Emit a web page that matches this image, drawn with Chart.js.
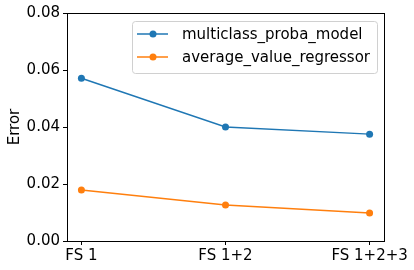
<!DOCTYPE html>
<html>
<head>
<meta charset="utf-8">
<script src="https://cdn.jsdelivr.net/npm/chart.js@4/dist/chart.umd.min.js"></script>
<style>
  html, body { margin: 0; padding: 0; background: #fff; }
  #wrap { width: 414px; height: 270px; }
</style>
</head>
<body>
<div id="wrap"><canvas id="errChart" width="414" height="270"></canvas></div>
<script>
const categories = ['FS 1', 'FS 1+2', 'FS 1+2+3']
const multiclassProba = [0.0571, 0.0400, 0.0375]
const averageValue = [0.0179, 0.0126, 0.0098]
const yTicks = [0, 0.02, 0.04, 0.06, 0.08]

const FONT = 'DejaVu Sans'

// frame round the plot area, like matplotlib's spines
const framePlugin = {
  id: 'frame',
  afterDraw(chart) {
    const { ctx, chartArea: a } = chart
    ctx.save()
    ctx.strokeStyle = '#000'
    ctx.lineWidth = 1
    ctx.strokeRect(Math.round(a.left) + 0.5, Math.round(a.top) + 0.5,
      Math.round(a.right - a.left), Math.round(a.bottom - a.top))
    ctx.restore()
  }
}

// legend box with line + marker swatches
const legendPlugin = {
  id: 'mplLegend',
  afterDraw(chart) {
    const { ctx } = chart
    const x0 = 132, y0 = 21, w = 245, h = 52
    ctx.save()
    ctx.fillStyle = 'rgba(255,255,255,0.8)'
    ctx.strokeStyle = '#d0d0d0'
    ctx.lineWidth = 1
    ctx.beginPath()
    ctx.roundRect(x0 + 0.5, y0 + 0.5, w, h, 3)
    ctx.fill()
    ctx.stroke()
    ctx.font = '15px "' + FONT + '"'
    ctx.textBaseline = 'middle'
    chart.data.datasets.forEach((ds, i) => {
      const y = y0 + 13 + i * 23
      ctx.strokeStyle = ds.borderColor
      ctx.lineWidth = 1.5
      ctx.beginPath()
      ctx.moveTo(x0 + 5, y)
      ctx.lineTo(x0 + 36, y)
      ctx.stroke()
      ctx.fillStyle = ds.borderColor
      ctx.beginPath()
      ctx.arc(x0 + 21, y, 3.5, 0, Math.PI * 2)
      ctx.fill()
      ctx.fillStyle = '#000'
      ctx.fillText(ds.label, x0 + 50, y + 1)
    })
    ctx.restore()
  }
}

const toPoints = vals => vals.map((v, i) => ({ x: i, y: v }))

new Chart(document.getElementById('errChart').getContext('2d'), {
  type: 'line',
  data: {
    datasets: [{
      label: 'multiclass_proba_model',
      data: toPoints(multiclassProba),
      borderColor: '#1f77b4',
      backgroundColor: '#1f77b4',
      borderWidth: 1.5,
      pointRadius: 3.5,
      pointBorderWidth: 0,
      tension: 0
    }, {
      label: 'average_value_regressor',
      data: toPoints(averageValue),
      borderColor: '#ff7f0e',
      backgroundColor: '#ff7f0e',
      borderWidth: 1.5,
      pointRadius: 3.5,
      pointBorderWidth: 0,
      tension: 0
    }]
  },
  options: {
    responsive: false,
    animation: false,
    layout: { padding: { top: 13, right: 30, left: 6, bottom: 0 } },
    plugins: {
      legend: { display: false },
      tooltip: { enabled: false }
    },
    scales: {
      x: {
        type: 'linear',
        min: -0.1,
        max: 2.1,
        afterBuildTicks: scale => { scale.ticks = categories.map((c, i) => ({ value: i })) },
        afterFit: scale => { scale.height = 29 },
        ticks: {
          callback: v => categories[v],
          color: '#000',
          font: { family: FONT, size: 15 },
          padding: 2,
          maxRotation: 0,
          autoSkip: false
        },
        grid: { drawOnChartArea: false, drawTicks: true, tickLength: 4, color: '#000' },
        border: { display: false }
      },
      y: {
        min: 0,
        max: 0.08,
        afterBuildTicks: scale => { scale.ticks = yTicks.map(v => ({ value: v })) },
        afterFit: scale => { scale.width = 61 },
        ticks: {
          callback: v => v.toFixed(2),
          color: '#000',
          font: { family: FONT, size: 15 },
          padding: 3
        },
        grid: { drawOnChartArea: false, drawTicks: true, tickLength: 4, color: '#000' },
        border: { display: false },
        title: {
          display: true,
          text: 'Error',
          color: '#000',
          font: { family: FONT, size: 15 },
          padding: { top: 0, bottom: 4 }
        }
      }
    }
  },
  plugins: [framePlugin, legendPlugin]
})
</script>
</body>
</html>
